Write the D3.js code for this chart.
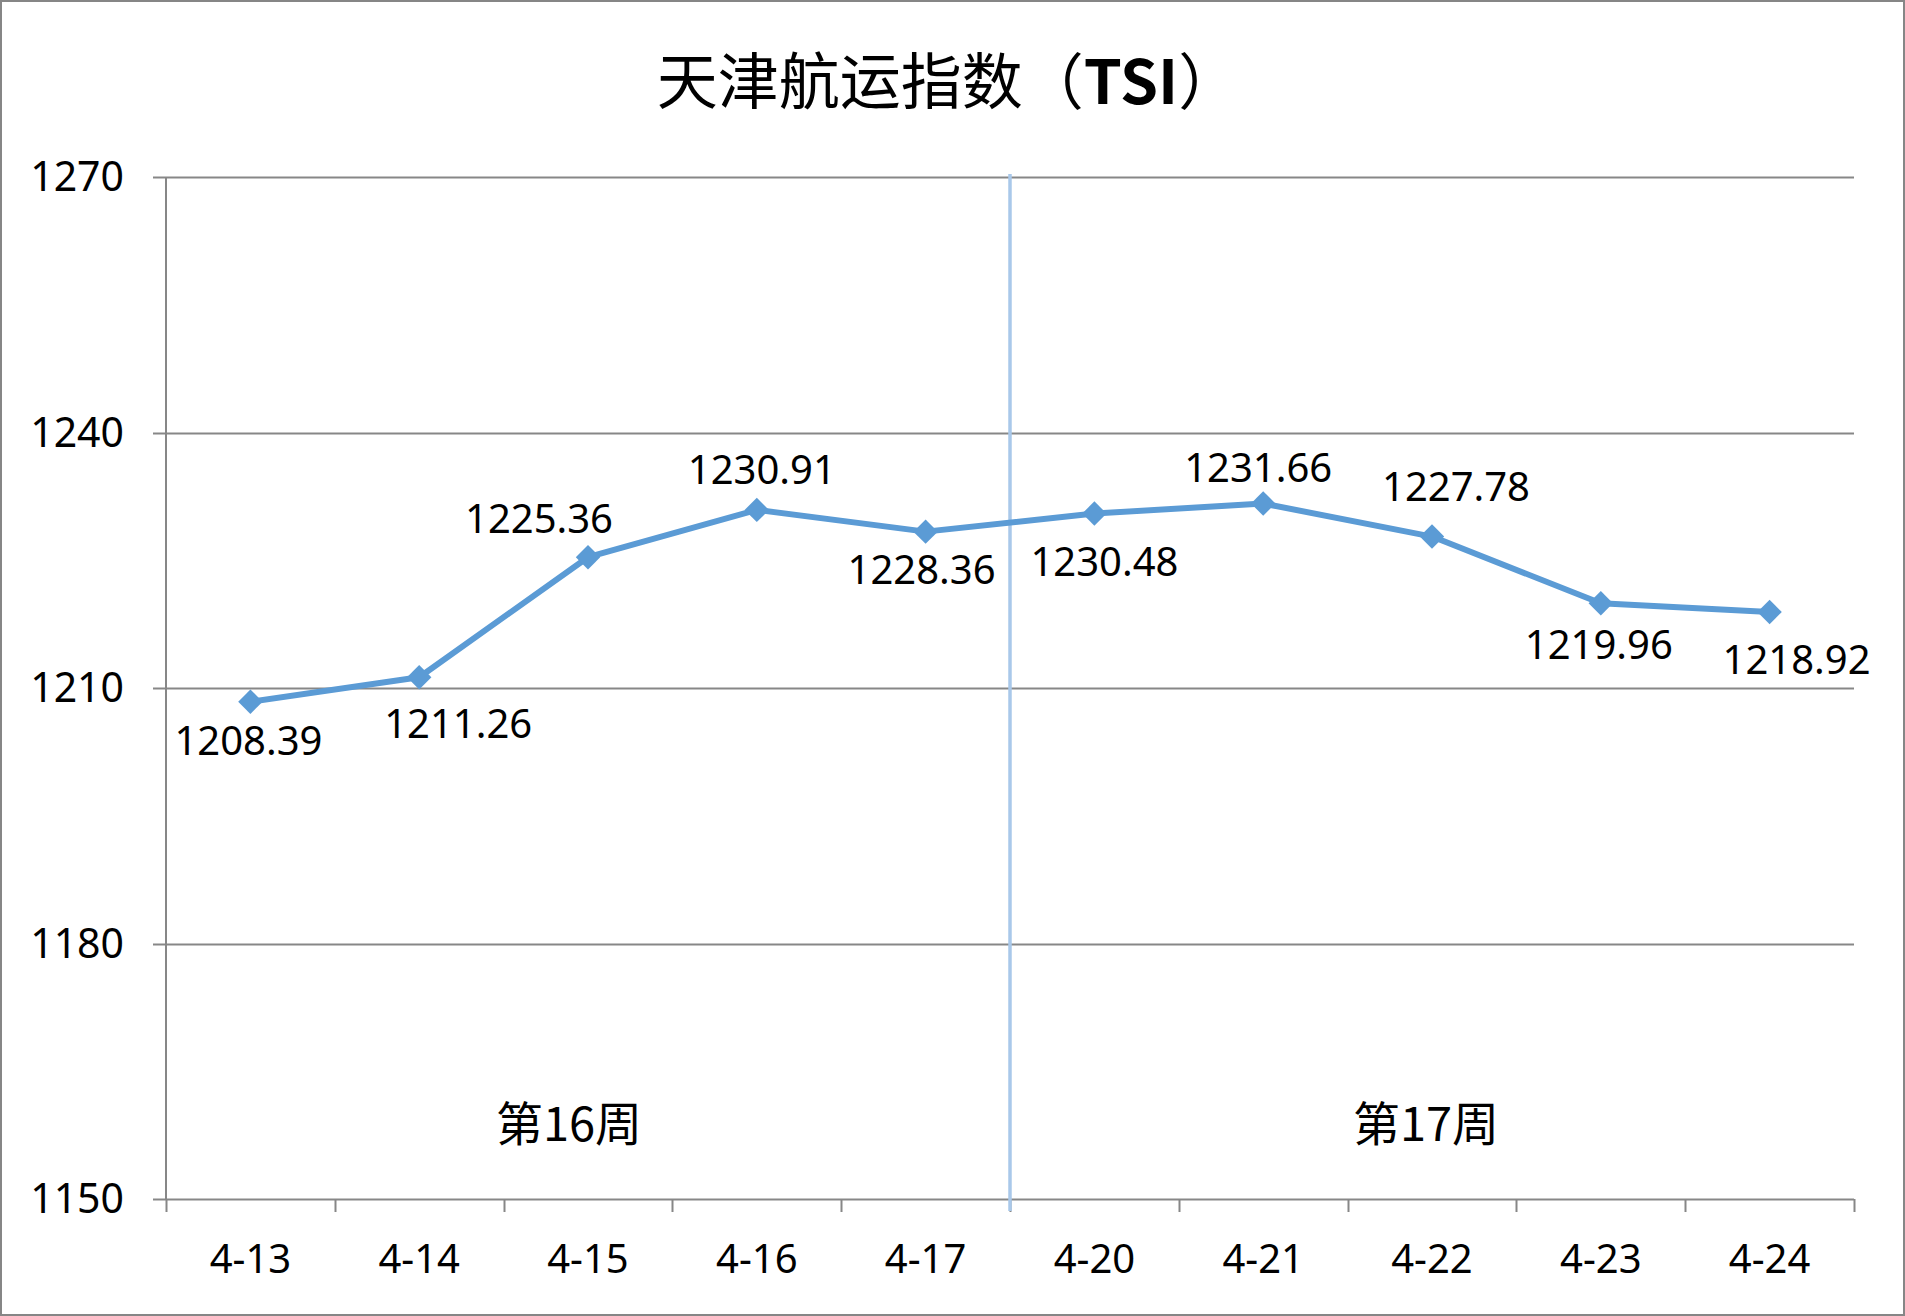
<!DOCTYPE html>
<html><head><meta charset="utf-8">
<script src="https://cdn.jsdelivr.net/npm/d3@7"></script>
<style>
html,body{margin:0;padding:0;background:#fff;}
svg{display:block;}
text{font-family:"Noto Sans","Noto Sans CJK SC",sans-serif;fill:#000;}
</style></head>
<body>
<svg id="chart" width="1905" height="1316"></svg>
<script>
// ---- data ----
const categories = ["4-13","4-14","4-15","4-16","4-17","4-20","4-21","4-22","4-23","4-24"];
const values = [1208.39,1211.26,1225.36,1230.91,1228.36,1230.48,1231.66,1227.78,1219.96,1218.92];
const yTicks = [1150,1180,1210,1240,1270];
const weekLabels = ["第16周","第17周"];
const weekGroups = [["4-13","4-17"],["4-20","4-24"]];
const titleMain = "天津航运指数（";
const titleBold = "TSI";
const titleEnd = "）";
// label placement (layout, not data): dx, dy relative to point
const labelDx = [-2, 39, -49, 5, -4, 10, -5, 24, -2, 27];
const labelDy = [53, 61, -24, -26, 52, 62, -22, -36, 56, 62];
const weekDx = [-19, -6];

const svg = d3.select("#chart");
const W = 1905, H = 1316;
const m = {left:166, right:W-1854, top:177, bottom:H-1199};

// border
svg.append("rect").attr("x",1).attr("y",1).attr("width",W-2).attr("height",H-2)
  .attr("fill","#fff").attr("stroke","#868686").attr("stroke-width",2);

const x = d3.scaleBand().domain(categories).range([m.left, W-m.right]).padding(0);
const y = d3.scaleLinear().domain([1150,1270]).range([H-m.bottom, m.top]);

// gridlines
svg.append("g").selectAll("line").data(yTicks).join("line")
  .attr("x1", m.left-13).attr("x2", W-m.right)
  .attr("y1", d=>Math.round(y(d))+0.5).attr("y2", d=>Math.round(y(d))+0.5)
  .attr("stroke","#878787").attr("stroke-width",2);

// y axis line
svg.append("line").attr("x1",m.left).attr("x2",m.left).attr("y1",m.top).attr("y2",H-m.bottom)
  .attr("stroke","#878787").attr("stroke-width",2);

// y labels
svg.append("g").selectAll("text").data(yTicks).join("text")
  .attr("x", 124).attr("y", d=>y(d)).attr("dy","0.35em")
  .attr("text-anchor","end").attr("font-size",41).text(d=>d);

// x ticks at category boundaries
const bounds = categories.map(c=>x(c)).concat([x(categories[categories.length-1])+x.bandwidth()]);
svg.append("g").selectAll("line").data(bounds).join("line")
  .attr("x1",d=>Math.round(d)+0.5).attr("x2",d=>Math.round(d)+0.5)
  .attr("y1",H-m.bottom).attr("y2",H-m.bottom+13)
  .attr("stroke","#878787").attr("stroke-width",2);

// x labels
svg.append("g").selectAll("text").data(categories).join("text")
  .attr("x", d=>x(d)+x.bandwidth()/2).attr("y", 1273)
  .attr("text-anchor","middle").attr("font-size",40).text(d=>d);

// week divider
const divX = x("4-20");
svg.append("line").attr("x1",divX).attr("x2",divX).attr("y1",174).attr("y2",1211)
  .attr("stroke","#a9c8ea").attr("stroke-width",3.5);

// week labels
svg.append("g").selectAll("text").data(weekLabels).join("text")
  .attr("x",(d,i)=>(x(weekGroups[i][0]) + x(weekGroups[i][1]) + x.bandwidth())/2 + weekDx[i])
  .attr("y",1141).attr("text-anchor","middle").attr("font-size",47)
  .style("font-family",'"Noto Sans CJK SC",sans-serif').text(d=>d);

// line
const line = d3.line().x((d,i)=>x(categories[i])+x.bandwidth()/2).y(d=>y(d));
svg.append("path").datum(values).attr("d",line).attr("fill","none")
  .attr("stroke","#5b9bd5").attr("stroke-width",6).attr("stroke-linejoin","round");

// markers
svg.append("g").selectAll("path").data(values).join("path")
  .attr("transform",(d,i)=>`translate(${x(categories[i])+x.bandwidth()/2},${y(d)})`)
  .attr("d", d3.symbol().type(d3.symbolDiamond2).size(380)())
  .attr("fill","#5b9bd5");

// data labels
svg.append("g").selectAll("text").data(values).join("text")
  .attr("x",(d,i)=>x(categories[i])+x.bandwidth()/2+labelDx[i])
  .attr("y",(d,i)=>y(d)+labelDy[i])
  .attr("text-anchor","middle").attr("font-size",40)
  .text(d=>d.toFixed(2));

// title
const t = svg.append("text").attr("x",948).attr("y",104).attr("text-anchor","middle")
  .attr("font-size",61).style("font-family",'"Noto Sans CJK SC",sans-serif');
t.append("tspan").text(titleMain);
t.append("tspan").attr("font-weight","bold").text(titleBold);
t.append("tspan").text(titleEnd);
</script>
</body></html>
